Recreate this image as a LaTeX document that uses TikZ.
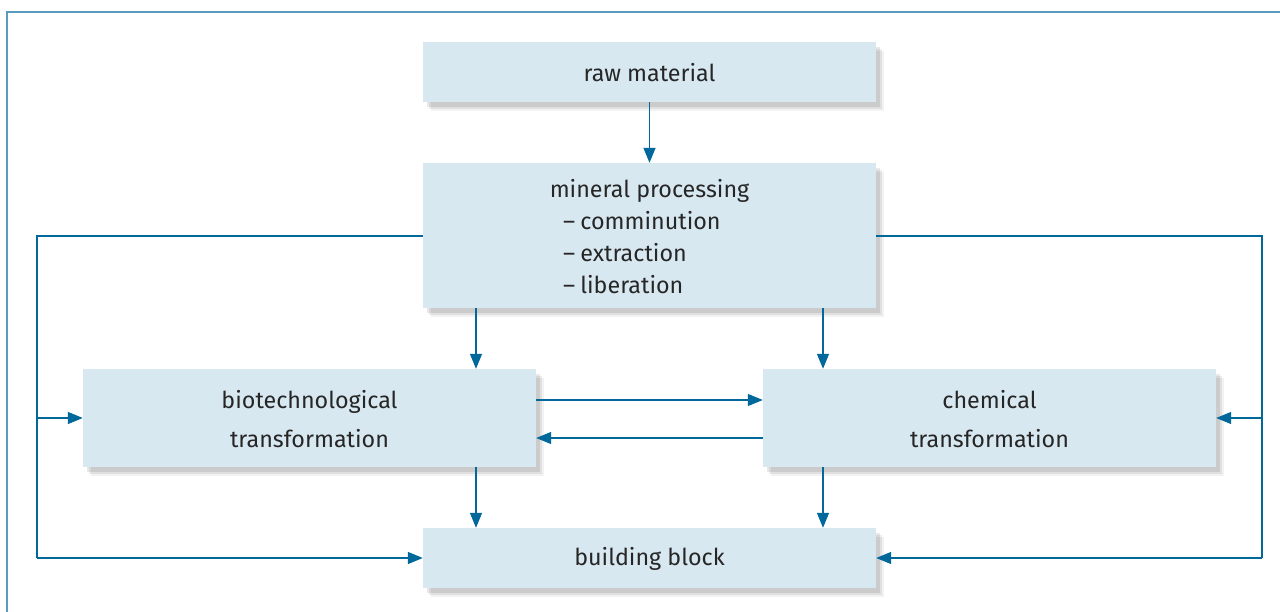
\documentclass[tikz,border=0pt]{standalone}
\usepackage{fontspec}
\setmainfont{Fira Sans}
\usetikzlibrary{arrows.meta,shadows,calc}
\definecolor{boxfill}{HTML}{D8E8F1}
\definecolor{arrowc}{HTML}{00689A}
\definecolor{framec}{HTML}{5A9BC0}
\begin{document}
\begin{tikzpicture}[x=1pt,y=-1pt,
  boxst/.style={fill=boxfill,draw=none,inner sep=0pt,
    general shadow={shadow xshift=8pt,shadow yshift=-9pt,fill=black,opacity=0.05},
    general shadow={shadow xshift=6pt,shadow yshift=-7pt,fill=black,opacity=0.07},
    general shadow={shadow xshift=4pt,shadow yshift=-5pt,fill=black,opacity=0.09}},
  conn/.style={draw=arrowc,line width=1.4pt,-{Triangle[length=15pt,width=12pt]}},
  plainc/.style={draw=arrowc,line width=1.4pt},
  lbl/.style={font=\fontsize{23.3}{32}\selectfont,text=black!85,align=center}]
\useasboundingbox (0,0) rectangle (1280,612);
\fill[white] (0,0) rectangle (1280,612);
\draw[framec,line width=2pt] (7,700) -- (7,12) -- (1300,12);
% boxes
\node[boxst,minimum width=453pt,minimum height=60pt] (raw) at (649.5,72) {};
\node[boxst,minimum width=453pt,minimum height=145pt] (min) at (649.5,235.5) {};
\node[boxst,minimum width=453pt,minimum height=98pt] (bio) at (309.5,418) {};
\node[boxst,minimum width=453pt,minimum height=98pt] (chem) at (989.5,418) {};
\node[boxst,minimum width=453pt,minimum height=60pt] (bb) at (649.5,558) {};
% texts
\node[lbl] (rawt) at (649.5,73) {raw material};
\node[lbl,anchor=base] (mint) at (649.5,197.5) {mineral processing};
\node[lbl,anchor=base west] (m1) at (559.5,229.5) {–\kern-1pt\ comminution};
\node[lbl,anchor=base west] (m2) at (559.5,261.5) {–\kern-1pt\ extraction};
\node[lbl,anchor=base west] (m3) at (559.5,293.5) {–\kern-1pt\ liberation};
\node[lbl,anchor=base] (bio1) at (309.5,408) {biotechnological};
\node[lbl,anchor=base] (bio2) at (309.5,447) {transformation};
\node[lbl,anchor=base] (ch1) at (989.5,408) {chemical};
\node[lbl,anchor=base] (ch2) at (989.5,447) {transformation};
\node[lbl] (bbt) at (649.5,559) {building block};
% coordinates
\coordinate (lt) at (37,236);
\coordinate (lb) at (37,558);
\coordinate (lm) at (37,418);
\coordinate (rt) at (1262,236);
\coordinate (rb) at (1262,558);
\coordinate (rm) at (1262,418);
% connectors
\draw[conn] (raw.south) -- (min.north);
\draw[conn] (min.south -| 476,0) -- (bio.north -| 476,0);
\draw[conn] (min.south -| 823,0) -- (chem.north -| 823,0);
\draw[conn] (bio.south -| 476,0) -- (bb.north -| 476,0);
\draw[conn] (chem.south -| 823,0) -- (bb.north -| 823,0);
\draw[conn] (bio.east |- 0,400) -- (chem.west |- 0,400);
\draw[conn] (chem.west |- 0,438) -- (bio.east |- 0,438);
\draw[plainc] (min.west |- lt) -- (lt) -- (lb);
\draw[conn] (lb) -- (bb.west);
\draw[conn] (lm) -- (bio.west);
\draw[plainc] (min.east |- rt) -- (rt) -- (rb);
\draw[conn] (rb) -- (bb.east);
\draw[conn] (rm) -- (chem.east);
\end{tikzpicture}
\end{document}
